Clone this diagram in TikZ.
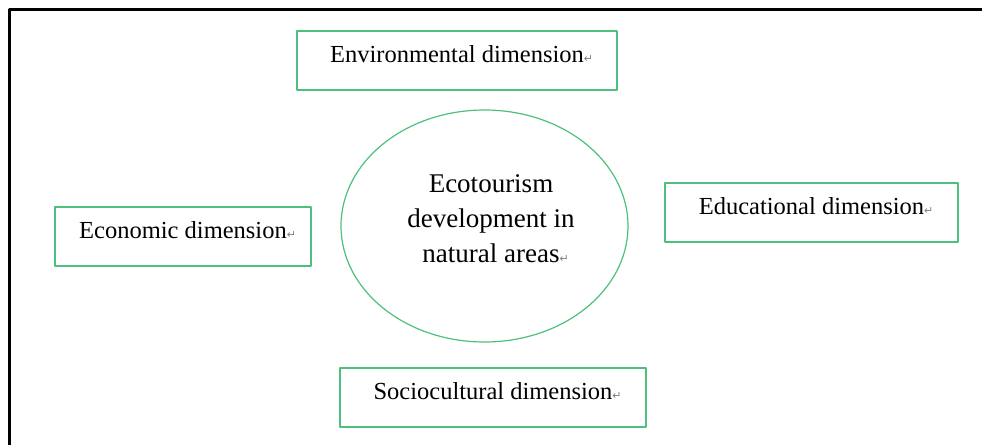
\documentclass[tikz,border=0pt]{standalone}
\usepackage{fontspec}
\setmainfont{Liberation Serif}
\newfontfamily\symfont{DejaVu Sans}
\usetikzlibrary{shapes.geometric}

\definecolor{boxgreen}{RGB}{76,192,124}
\newcommand\retglyph{\rlap{\textcolor{gray}{\symfont\fontsize{5.5}{6}\selectfont ↵}}}

\begin{document}
\begin{tikzpicture}[line cap=round,line join=round,x=0.5pt,y=-0.5pt,
  dimbox/.style={draw=boxgreen,line width=0.6pt,inner xsep=0pt,inner ysep=0pt,
    text height=15.5pt,text depth=14pt,font=\fontsize{12.25}{14}\selectfont},
  hub/.style={draw=boxgreen,line width=0.6pt,ellipse,inner sep=0pt,
    minimum width=143.5pt,minimum height=116pt}]
\useasboundingbox (0,0) rectangle (982,445);
\draw [line width=1.4pt] (9.8,445) -- (9.8,9.7) -- (982,9.7);

\node[hub] (hub) at (484.5,226) {};
\node[align=center,font=\fontsize{13.5}{17.5}\selectfont] (hubtxt) at (491,219)
  {Ecotourism\\development in\\natural areas\retglyph};

\node[dimbox,minimum width=160pt] (env) at (457,60.5) {Environmental dimension\retglyph};
\node[dimbox,minimum width=128pt] (econ) at (183,236.5) {Economic dimension\retglyph};
\node[dimbox,minimum width=146.5pt] (edu) at (811.5,212.5) {Educational dimension\retglyph};
\node[dimbox,minimum width=153pt] (soc) at (493,397.5) {Sociocultural dimension\retglyph};
\end{tikzpicture}
\end{document}
